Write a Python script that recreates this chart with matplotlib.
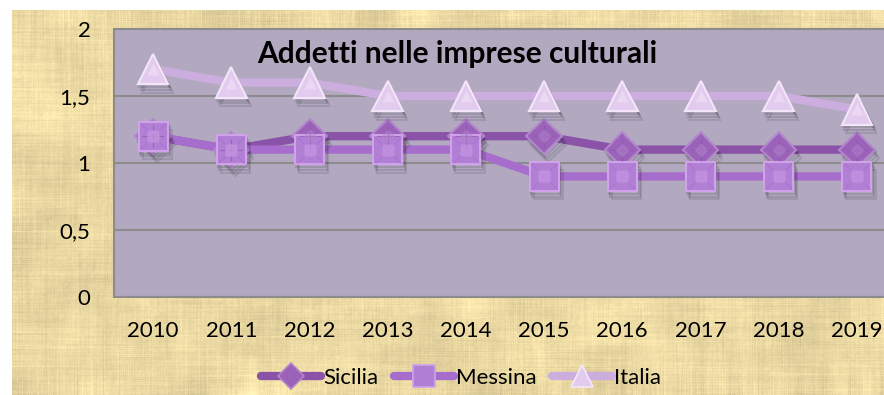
import numpy as np
import matplotlib
matplotlib.use("Agg")
import matplotlib.pyplot as plt
import matplotlib.patheffects as pe

# -----------------------------
# Data
# -----------------------------
years = ["2010", "2011", "2012", "2013", "2014", "2015", "2016", "2017", "2018", "2019"]
sicilia = [1.2, 1.1, 1.2, 1.2, 1.2, 1.2, 1.1, 1.1, 1.1, 1.1]
messina = [1.2, 1.1, 1.1, 1.1, 1.1, 0.9, 0.9, 0.9, 0.9, 0.9]
italia = [1.7, 1.6, 1.6, 1.5, 1.5, 1.5, 1.5, 1.5, 1.5, 1.4]
y_ticks = [0, 0.5, 1, 1.5, 2]
y_labels = ["0", "0,5", "1", "1,5", "2"]
title = "Addetti nelle imprese culturali"

plt.rcParams["font.family"] = ["Lato", "DejaVu Sans"]

W, H = 884, 395
fig = plt.figure(figsize=(W / 100, H / 100), dpi=100, facecolor="white")


# -----------------------------
# Parchment background
# -----------------------------
def smooth(a, n, axis):
    k = np.ones(n) / n
    pad = [(0, 0), (0, 0)]
    pad[axis] = (n, n)
    a = np.pad(a, pad, mode="reflect")
    a = np.apply_along_axis(lambda v: np.convolve(v, k, mode="same"), axis, a)
    return a[n:-n, :] if axis == 0 else a[:, n:-n]


rng = np.random.default_rng(7)
th, tw = 385, 872
blotch = smooth(smooth(rng.normal(size=(th, tw)), 45, 0), 45, 1)
fib_h = smooth(rng.normal(size=(th, tw)), 70, 1)
fib_v = smooth(rng.normal(size=(th, tw)), 60, 0)
grain = smooth(smooth(rng.normal(size=(th, tw)), 3, 0), 3, 1)
tex = (blotch / blotch.std() * 0.025 + fib_h / fib_h.std() * 0.013
       + fib_v / fib_v.std() * 0.013 + grain / grain.std() * 0.008)
base = np.array([236, 218, 164]) / 255.0
parch = np.clip(base[None, None, :] * (1 + tex[..., None])
                + np.array([0, 0, 0.04]) * tex[..., None], 0, 1)

bg = fig.add_axes([12 / W, 0, 872 / W, 385 / H], zorder=0)
bg.imshow(parch, aspect="auto", interpolation="bilinear")
bg.axis("off")

# -----------------------------
# Plot area
# -----------------------------
ax = fig.add_axes([114 / W, 98 / H, 782 / W, 268 / H], zorder=1)
ax.set_facecolor("#b2a9c1")
x = np.arange(len(years))

# name, values, line colour, marker, size, face, highlight, facet-line marker
series = [
    ("Sicilia", sicilia, "#8a53a7", "D", 18, "#9a62b9", "#b386cc", "+"),
    ("Messina", messina, "#a76dcc", "s", 21, "#b17fd4", "#cfa2ea", "x"),
    ("Italia", italia, "#cbaede", "^", 22, "#e3cbef", "#f3e6f8", None),
]

# soft drop shadow under the markers
shadow = [pe.SimpleLineShadow(offset=(1, -2), shadow_color="black", alpha=0.12),
          pe.SimpleLineShadow(offset=(2, -4), shadow_color="black", alpha=0.12),
          pe.SimpleLineShadow(offset=(3, -6), shadow_color="black", alpha=0.10),
          pe.Normal()]
for name, vals, lc, mk, ms, fc, ec, facet in series:
    ax.plot(x, vals, color=lc, lw=6, solid_capstyle="round", zorder=3)
    ax.plot(x, vals, ls="none", marker=mk, ms=ms, mfc=fc, mec=ec, mew=1.5,
            path_effects=shadow, zorder=4)
    # pyramid facets
    if facet:
        ax.plot(x, vals, ls="none", marker=facet, ms=ms * 0.9, mec=lc,
                mew=0.8, alpha=0.6, zorder=5)
    ax.plot(x, vals, ls="none", marker=mk, ms=ms * 0.4, mfc=ec, mec="none",
            alpha=0.5, zorder=5)

ax.set_xlim(-0.5, len(years) - 0.5)
ax.set_ylim(0, 2)
ax.set_yticks(y_ticks)
ax.set_yticklabels(y_labels)
ax.set_xticks(x)
ax.set_xticklabels(years)
ax.tick_params(axis="both", length=0, labelsize=16, colors="black")
ax.tick_params(axis="y", pad=17)
ax.tick_params(axis="x", pad=17)
ax.yaxis.grid(True, color="#8c8c8c", lw=1.5)
ax.set_axisbelow(True)
for s in ax.spines.values():
    s.set_color("#8c8c8c")
    s.set_linewidth(1.5)

ax.text(0.4386, 0.905, title, transform=ax.transAxes, ha="center", va="center",
        fontsize=21.5, fontweight="bold", color="black", zorder=6)

# -----------------------------
# Legend
# -----------------------------
handles = []
for name, vals, lc, mk, ms, fc, ec, facet in series:
    h, = ax.plot([], [], color=lc, lw=6, solid_capstyle="round", marker=mk,
                 ms=ms * 0.75, mfc=fc, mec=ec, mew=1.2, label=name)
    handles.append(h)
fig.legend(handles=handles, loc="center", bbox_to_anchor=(461 / W, 1 - 378 / H),
           ncol=3, frameon=False, fontsize=16, handlelength=2.7, handletextpad=0.1,
           columnspacing=0.7, borderpad=0)

fig.savefig("out.png", dpi=100, facecolor="white")
